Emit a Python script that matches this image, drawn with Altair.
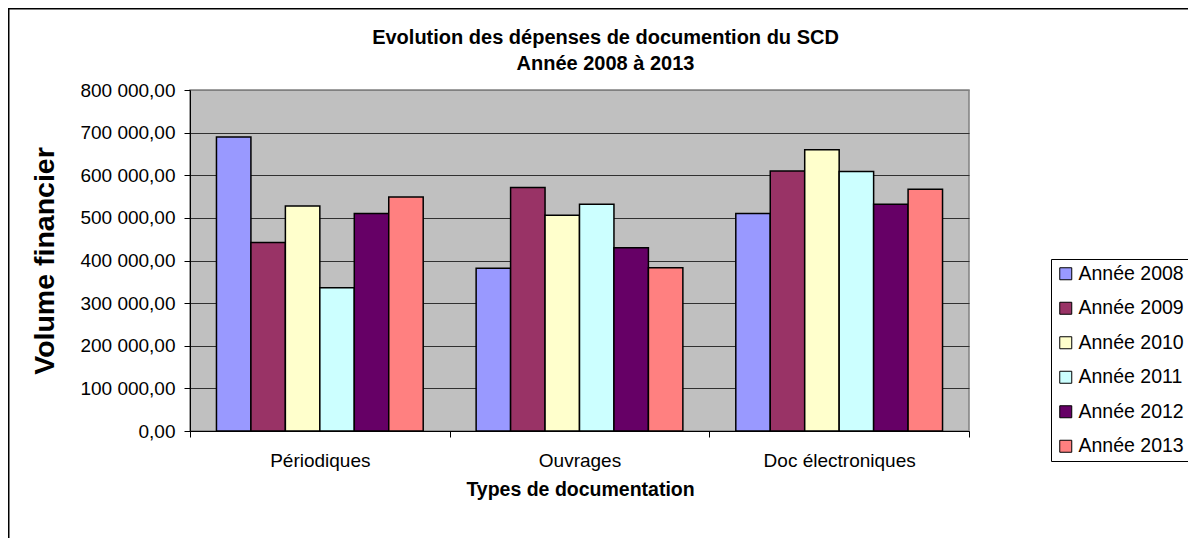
import altair as alt
import pandas as pd

categories = ["Périodiques", "Ouvrages", "Doc électroniques"]
years = ["Année 2008", "Année 2009", "Année 2010", "Année 2011", "Année 2012", "Année 2013"]
periodiques = [690000, 442000, 528000, 336000, 510000, 549000]
ouvrages = [382000, 571000, 506000, 532000, 430000, 383000]
doc_elec = [510000, 610000, 660000, 609000, 532000, 567000]
colors = ["#9999FF", "#993366", "#FFFFCC", "#CCFFFF", "#660066", "#FF8080"]
y_ticks = [0, 100000, 200000, 300000, 400000, 500000, 600000, 700000, 800000]
title_lines = ["Evolution des dépenses de documention du SCD", "Année 2008 à 2013"]

rows = []
for cat, vals in zip(categories, [periodiques, ouvrages, doc_elec]):
    for yr, v in zip(years, vals):
        rows.append({"type": cat, "annee": yr, "montant": v})
df = pd.DataFrame(rows)

FONT = "Liberation Sans"
W, H = 779, 341

bars = alt.Chart(df).mark_bar(stroke="black", strokeWidth=1.5).encode(
    x=alt.X(
        "type:N",
        sort=categories,
        scale=alt.Scale(paddingInner=0, paddingOuter=0),
        axis=alt.Axis(
            title="Types de documentation",
            labelAngle=0,
            tickBand="extent",
            tickSize=6,
            labelPadding=29,
            labelBaseline="alphabetic",
            labelFontSize=19,
            labelColor="black",
            titleFontSize=19.5,
            titleFontWeight="bold",
            titleColor="black",
            titleX=390,
            titleY=64,
            titleBaseline="alphabetic",
            titleAlign="center",
            domainColor="black",
            tickColor="black",
            grid=False,
        ),
    ),
    xOffset=alt.XOffset(
        "annee:N", sort=years, scale=alt.Scale(paddingInner=0, paddingOuter=0.768)
    ),
    y=alt.Y(
        "montant:Q",
        scale=alt.Scale(domain=[0, 800000], nice=False),
        axis=alt.Axis(
            title="Volume financier",
            values=y_ticks,
            labelExpr="replace(replace(format(datum.value, ',.2f'), ',', ' '), '.', ',')",
            labelFontSize=19,
            labelColor="black",
            labelPadding=9,
            tickSize=6,
            tickColor="black",
            domainColor="black",
            grid=True,
            gridColor={"condition": {"test": "datum.value >= 800000", "value": "#808080"}, "value": "#303030"},
            gridWidth=1,
            titleFontSize=28.5,
            titleFontWeight="bold",
            titleColor="black",
            titleAngle=-90,
            titleX=-137,
            titleY=170.5,
            titleAlign="center",
            titleBaseline="alphabetic",
        ),
    ),
    color=alt.Color(
        "annee:N",
        sort=years,
        scale=alt.Scale(domain=years, range=colors),
        legend=alt.Legend(
            title=None,
            orient="none",
            legendX=861,
            legendY=169,
            symbolType="square",
            symbolSize=144,
            symbolStrokeColor="black",
            symbolStrokeWidth=1,
            labelFontSize=19.5,
            labelColor="black",
            labelOffset=3,
            rowPadding=13.5,
            padding=5,
            strokeColor="black",
            fillColor="white",
        ),
    ),
)

border = alt.Chart(pd.DataFrame({"k": [0]})).mark_rect(
    filled=False, stroke="black", strokeWidth=1.5
).encode(
    x=alt.value(-181.25), x2=alt.value(1100), y=alt.value(-81.25), y2=alt.value(480)
)

chart = alt.layer(border, bars).properties(
    width=W,
    height=H,
    autosize=alt.AutoSizeParams(type="none"),
    padding={"left": 182, "top": 82, "right": 219, "bottom": 107},
    title=alt.TitleParams(
        text=title_lines,
        fontSize=20,
        fontWeight="bold",
        font=FONT,
        color="black",
        anchor="middle",
        frame="group",
        dx=26,
        lineHeight=26,
        baseline="alphabetic",
        offset=-82,
    ),
).configure(
    font=FONT,
    background="white",
).configure_view(
    fill="#C0C0C0", stroke="#808080", strokeWidth=1.5
)

chart.save("out.html", embed_options={"renderer": "svg", "actions": False})
